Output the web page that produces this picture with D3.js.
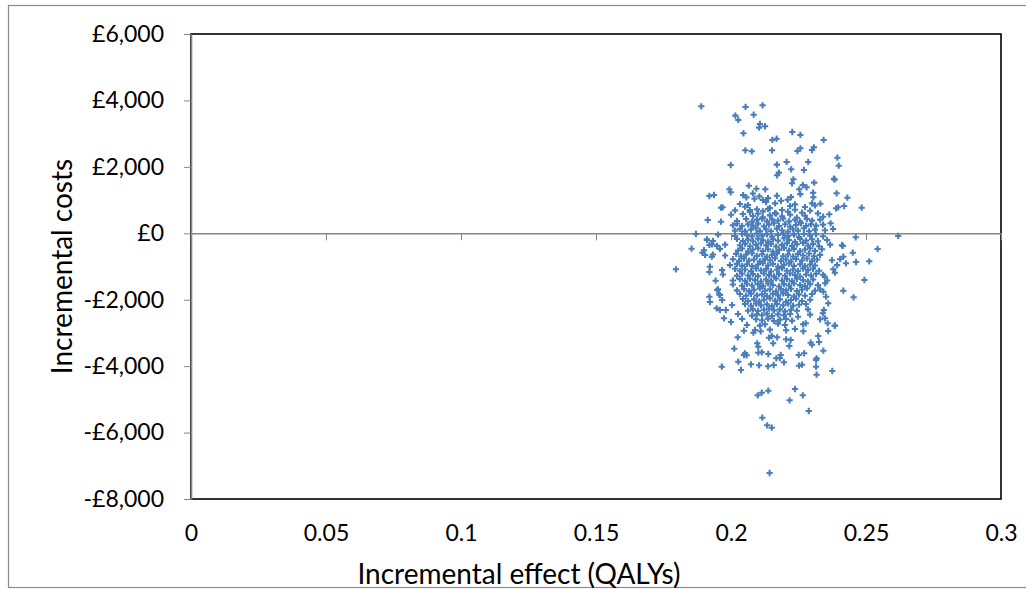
<!DOCTYPE html>
<html>
<head>
<meta charset="utf-8">
<script src="https://cdn.jsdelivr.net/npm/d3@7"></script>
<style>
  body { margin: 0; background: #fff; }
  svg { display: block; }
  .vis-plane text { font-family: Lato, "Open Sans", sans-serif; fill: #000; }
</style>
</head>
<body>
<div id="chart"></div>
<script>
// Incremental effect (QALYs), incremental cost (£) pairs
const upperTail = [
  [0.1890, 3824], [0.2054, 3803], [0.2117, 3854], [0.2016, 3541], [0.2027, 3412],
  [0.2084, 3571], [0.2107, 3291], [0.2126, 3222], [0.2104, 3180], [0.2046, 3011],
  [0.2227, 3050], [0.2257, 2960], [0.2343, 2810], [0.2153, 2810], [0.2169, 2848],
  [0.2053, 2499], [0.2077, 2469], [0.2152, 2499], [0.2246, 2478], [0.2257, 2559],
  [0.2300, 2508], [0.2307, 2589], [0.1999, 2056], [0.2170, 2066], [0.2206, 2147],
  [0.2286, 2147], [0.2394, 2276], [0.2399, 2035], [0.2223, 1927], [0.2270, 1906],
  [0.2177, 1825], [0.2171, 1746], [0.2381, 1644], [0.2384, 1614], [0.2231, 1626],
  [0.2226, 1506], [0.2308, 1524], [0.2066, 1433], [0.2094, 1343], [0.2127, 1325],
  [0.1994, 1325], [0.1999, 1235], [0.1920, 1123], [0.1937, 1153], [0.2253, 1325],
  [0.2266, 1454], [0.2280, 1385], [0.2304, 1222], [0.2305, 1084], [0.2391, 1204],
  [0.2431, 1072], [0.2484, 771], [0.2419, 822], [0.2389, 753], [0.2397, 783],
  [0.1963, 771], [0.1969, 783], [0.1914, 400], [0.1963, 349], [0.2369, 301],
  [0.2364, 572], [0.2331, 891],
];

const sidePoints = [
  [0.1870, -20], [0.2462, -120], [0.2619, -81], [0.1796, -1084], [0.1854, -464],
  [0.1894, -584], [0.1904, -653], [0.1911, -181], [0.1920, -352], [0.1929, -705],
  [0.1922, -1006], [0.1920, -1165], [0.1943, -1427], [0.1920, -1909], [0.1922, -2069],
  [0.1949, -1707], [0.1956, -1837], [0.1947, -2258], [0.1959, -2309], [0.1974, -2559],
  [0.2000, -2671], [0.2454, -1927], [0.2416, -1728], [0.2494, -1406], [0.2512, -843],
  [0.2463, -864], [0.2451, -584], [0.2414, -382], [0.2416, -705], [0.2426, -903],
  [0.2543, -473], [0.2379, -1084], [0.2385, -1186], [0.2347, -1307], [0.2349, -1506],
  [0.2342, -1758], [0.2352, -1909], [0.2360, -2108], [0.2344, -2309], [0.2340, -2409],
  [0.2277, -2710], [0.2248, -2511],
];

const core = [
  [0.2045, 1150], [0.2057, 1080], [0.2081, 1200], [0.2087, 1040], [0.2105, 1110], [0.2118, 1000],
  [0.2137, 1060], [0.2170, 1130], [0.2210, 1010], [0.2257, 1180], [0.2222, 1090],
  [0.2033, 880], [0.2052, 800], [0.2063, 850], [0.2070, 700], [0.2144, 760], [0.2163, 900],
  [0.2219, 820], [0.2237, 870], [0.2274, 790], [0.2300, 900], [0.2311, 840], [0.2185, 980], [0.2130, 940],
  [0.2015, 690], [0.2070, 640], [0.2096, 720], [0.2118, 660], [0.2137, 730], [0.2163, 610],
  [0.2189, 700], [0.2211, 650], [0.2237, 710], [0.2263, 620], [0.2293, 680], [0.2322, 600],
  [0.2000, 560], [0.2044, 580], [0.2081, 520], [0.2100, 590], [0.2118, 480], [0.2144, 540],
  [0.2167, 590], [0.2189, 510], [0.2219, 560], [0.2244, 470], [0.2274, 530], [0.2341, 500],
  [0.2022, 370], [0.2056, 430], [0.2078, 350], [0.2096, 410], [0.2115, 440], [0.2133, 360],
  [0.2152, 420], [0.2174, 380], [0.2193, 440], [0.2215, 360], [0.2237, 410], [0.2256, 350], [0.2281, 430],
  [0.2300, 380], [0.2330, 410],
  [0.2007, 240], [0.2022, 290], [0.2041, 220], [0.2063, 270], [0.2081, 230], [0.2100, 290], [0.2122, 210],
  [0.2141, 260], [0.2159, 300], [0.2178, 220], [0.2200, 270], [0.2219, 200], [0.2241, 250], [0.2259, 300],
  [0.2278, 220], [0.2296, 270], [0.2315, 230], [0.2341, 260],
  [0.2015, 80], [0.2033, 130], [0.2052, 60], [0.2074, 110], [0.2093, 150], [0.2107, 70], [0.2130, 120],
  [0.2148, 60], [0.2170, 140], [0.2189, 90], [0.2211, 50], [0.2230, 120], [0.2248, 80], [0.2270, 150],
  [0.2289, 60], [0.2311, 110], [0.2348, 90], [0.2378, 130],
  [0.1952, -40], [0.2015, -80], [0.2041, -20], [0.2059, -60], [0.2078, -90], [0.2096, -10], [0.2115, -70],
  [0.2133, -30], [0.2152, -100], [0.2174, -50], [0.2193, -10], [0.2211, -80], [0.2233, -40], [0.2252, -110],
  [0.2270, -20], [0.2293, -70], [0.2315, -30], [0.2341, -90],
  [0.1911, -200], [0.1933, -230], [0.2022, -170], [0.2044, -230], [0.2063, -190], [0.2081, -240],
  [0.2100, -160], [0.2118, -210], [0.2137, -250], [0.2155, -180], [0.2174, -220], [0.2196, -150],
  [0.2215, -200], [0.2237, -260], [0.2256, -170], [0.2278, -220], [0.2300, -180], [0.2322, -240], [0.2356, -200],
  [0.1930, -330], [0.1948, -380], [0.1978, -340], [0.2033, -360], [0.2052, -310], [0.2070, -390],
  [0.2093, -340], [0.2111, -300], [0.2130, -370], [0.2148, -320], [0.2167, -400], [0.2189, -350],
  [0.2207, -300], [0.2226, -380], [0.2244, -330], [0.2267, -290], [0.2285, -370], [0.2304, -320],
  [0.2326, -390], [0.2367, -340], [0.2411, -360],
  [0.1900, -510], [0.1959, -470], [0.2026, -520], [0.2041, -460], [0.2063, -540], [0.2081, -490],
  [0.2100, -450], [0.2118, -530], [0.2137, -480], [0.2155, -550], [0.2178, -500], [0.2196, -440],
  [0.2215, -520], [0.2233, -470], [0.2256, -540], [0.2274, -490], [0.2293, -450], [0.2311, -530], [0.2337, -480],
  [0.1933, -640], [0.1978, -670], [0.2019, -620], [0.2037, -690], [0.2056, -640], [0.2078, -600],
  [0.2096, -680], [0.2115, -630], [0.2133, -700], [0.2152, -650], [0.2170, -610], [0.2193, -690],
  [0.2211, -640], [0.2230, -700], [0.2248, -620], [0.2267, -670], [0.2289, -610], [0.2307, -690], [0.2330, -650],
  [0.2007, -780], [0.2030, -830], [0.2048, -760], [0.2067, -820], [0.2085, -790], [0.2107, -840],
  [0.2126, -770], [0.2144, -810], [0.2163, -750], [0.2185, -830], [0.2204, -790], [0.2222, -850],
  [0.2241, -770], [0.2263, -820], [0.2281, -760], [0.2300, -830], [0.2319, -790], [0.2374, -810], [0.2404, -780],
  [0.1996, -960], [0.2022, -920], [0.2041, -980], [0.2059, -930], [0.2078, -990], [0.2100, -940],
  [0.2118, -900], [0.2137, -970], [0.2155, -920], [0.2174, -1000], [0.2196, -950], [0.2215, -910],
  [0.2233, -980], [0.2256, -930], [0.2274, -990], [0.2293, -940], [0.2311, -970], [0.2393, -960],
  [0.1967, -1110], [0.2015, -1070], [0.2033, -1130], [0.2052, -1090], [0.2074, -1140], [0.2093, -1060],
  [0.2111, -1120], [0.2130, -1080], [0.2148, -1150], [0.2170, -1100], [0.2189, -1050], [0.2207, -1130],
  [0.2230, -1090], [0.2248, -1140], [0.2267, -1060], [0.2285, -1110], [0.2304, -1070], [0.2326, -1130],
  [0.1970, -1240], [0.2022, -1280], [0.2041, -1220], [0.2063, -1270], [0.2081, -1230], [0.2100, -1290],
  [0.2122, -1210], [0.2141, -1260], [0.2159, -1300], [0.2178, -1230], [0.2200, -1280], [0.2219, -1210],
  [0.2237, -1260], [0.2256, -1300], [0.2278, -1240], [0.2296, -1270], [0.2315, -1220], [0.2341, -1250],
  [0.2007, -1420], [0.2033, -1380], [0.2052, -1430], [0.2070, -1370], [0.2089, -1410], [0.2111, -1450],
  [0.2130, -1390], [0.2148, -1430], [0.2167, -1360], [0.2189, -1420], [0.2207, -1380], [0.2226, -1440],
  [0.2244, -1370], [0.2267, -1410], [0.2285, -1450], [0.2304, -1390], [0.2356, -1420],
  [0.2007, -1540], [0.2041, -1580], [0.2059, -1520], [0.2078, -1570], [0.2100, -1530], [0.2118, -1590],
  [0.2137, -1510], [0.2155, -1560], [0.2178, -1600], [0.2196, -1530], [0.2215, -1570], [0.2233, -1510],
  [0.2256, -1560], [0.2274, -1590], [0.2293, -1530], [0.2322, -1560],
  [0.1952, -1690], [0.2022, -1720], [0.2048, -1680], [0.2067, -1740], [0.2085, -1700], [0.2107, -1660],
  [0.2126, -1730], [0.2144, -1690], [0.2167, -1750], [0.2185, -1680], [0.2204, -1720], [0.2222, -1670],
  [0.2244, -1740], [0.2263, -1700], [0.2281, -1660], [0.2311, -1730], [0.2330, -1690],
  [0.1959, -1860], [0.2033, -1830], [0.2056, -1880], [0.2074, -1820], [0.2096, -1870], [0.2115, -1840],
  [0.2133, -1890], [0.2155, -1830], [0.2174, -1870], [0.2193, -1810], [0.2211, -1860], [0.2233, -1900],
  [0.2252, -1840], [0.2274, -1880], [0.2300, -1830],
  [0.1967, -2010], [0.2044, -1980], [0.2063, -2040], [0.2085, -1990], [0.2104, -2050], [0.2122, -2000],
  [0.2144, -1960], [0.2163, -2030], [0.2181, -1990], [0.2204, -2060], [0.2222, -2010], [0.2241, -1970],
  [0.2263, -2040], [0.2293, -2000],
  [0.2004, -2160], [0.2052, -2130], [0.2074, -2180], [0.2093, -2120], [0.2111, -2170], [0.2133, -2140],
  [0.2152, -2190], [0.2170, -2130], [0.2193, -2170], [0.2211, -2120], [0.2230, -2180], [0.2252, -2150],
  [0.2278, -2130],
  [0.1981, -2310], [0.2063, -2330], [0.2081, -2290], [0.2100, -2340], [0.2122, -2300],
  [0.2141, -2270], [0.2159, -2320], [0.2181, -2290], [0.2200, -2350], [0.2222, -2300], [0.2244, -2330],
  [0.2285, -2290],
  [0.2026, -2430], [0.2078, -2480], [0.2096, -2440], [0.2115, -2470], [0.2133, -2420],
  [0.2152, -2490], [0.2174, -2440], [0.2196, -2470], [0.2219, -2430], [0.2293, -2450],
  [0.2041, -2580], [0.2093, -2590], [0.2115, -2620], [0.2137, -2570],
  [0.2159, -2640], [0.2181, -2600], [0.2204, -2580], [0.2226, -2630], [0.2330, -2590],
  [0.2059, -2760], [0.2107, -2780], [0.2126, -2740], [0.2174, -2720],
  [0.2200, -2760], [0.2267, -2740], [0.2385, -2780],
  [0.2089, -2910], [0.2144, -2900], [0.2204, -2920], [0.2237, -2880],
];

const lowerTail = [
  [0.2025, -3131], [0.2012, -3475], [0.2052, -3613], [0.2048, -2933], [0.2083, -2993],
  [0.2110, -2951], [0.2097, -3312], [0.2101, -3414], [0.2141, -3143], [0.2151, -3092],
  [0.2171, -3131], [0.2156, -3312], [0.2204, -3192], [0.2221, -3213], [0.2216, -3393],
  [0.2268, -2951], [0.2295, -3294], [0.2300, -3354], [0.2323, -3092], [0.2326, -3273],
  [0.2342, -3535], [0.2360, -2942], [0.2384, -2782], [0.2358, -2710], [0.2348, -2559],
  [0.2181, -3755], [0.2251, -3664], [0.2271, -3613], [0.2317, -3764], [0.2101, -3595],
  [0.2138, -3634], [0.2058, -3673], [0.2048, -3664], [0.2114, -3583], [0.2168, -3764],
  [0.2184, -3664], [0.1966, -4017], [0.2027, -3866], [0.2037, -4116], [0.2074, -3944],
  [0.2104, -3975], [0.2137, -4005], [0.2158, -3966], [0.2196, -3884], [0.2252, -3987],
  [0.2263, -3956], [0.2315, -3815], [0.2315, -4017], [0.2317, -4258], [0.2375, -4146],
  [0.2099, -4878], [0.2114, -4800], [0.2138, -4739], [0.2237, -4688], [0.2266, -4878],
  [0.2217, -5028], [0.2288, -5351], [0.2116, -5552], [0.2134, -5781], [0.2151, -5853],
  [0.2143, -7217],
];

const effectTicks = [0, 0.05, 0.1, 0.15, 0.2, 0.25, 0.3];
const costTicks = [-8000, -6000, -4000, -2000, 0, 2000, 4000, 6000];

class VisCostEffectPlane {
  constructor({ el, data }) {
    this.el = el;
    this.data = data;
    this.initVis();
  }

  initVis() {
    this.width = 1026;
    this.height = 589;
    this.plot = { left: 191, top: 34, right: 1001, bottom: 499 };
    this.axisColor = "#868686";
    this.markColor = "#4a7ebb";

    this.x = d3
      .scaleLinear()
      .domain(d3.extent(effectTicks))
      .range([this.plot.left, this.plot.right]);
    this.y = d3
      .scaleLinear()
      .domain(d3.extent(costTicks))
      .range([this.plot.bottom, this.plot.top]);

    this.formatCost = (d) =>
      (d < 0 ? "-" : "") + "£" + d3.format(",")(Math.abs(d));

    this.svg = d3
      .select(this.el)
      .append("svg")
      .attr("class", "vis-plane")
      .attr("width", this.width)
      .attr("height", this.height);

    // chart frame
    this.svg
      .append("rect")
      .attr("x", 8.5)
      .attr("y", 5.5)
      .attr("width", 1040)
      .attr("height", 582)
      .attr("fill", "#fff")
      .attr("stroke", "#8c8c8c")
      .attr("stroke-width", 1.2);

    this.renderAxes();
    this.renderPoints();
    this.renderTitles();
  }

  renderAxes() {
    const { left, top, right, bottom } = this.plot;

    this.svg
      .append("rect")
      .attr("x", left)
      .attr("y", top)
      .attr("width", right - left)
      .attr("height", bottom - top)
      .attr("fill", "none")
      .attr("stroke", "#000")
      .attr("stroke-width", 1.6);

    this.svg
      .append("g")
      .attr("transform", `translate(${left},0)`)
      .call(
        d3
          .axisLeft(this.y)
          .tickValues(costTicks)
          .tickFormat(this.formatCost)
          .tickSizeInner(7)
          .tickSizeOuter(0)
          .tickPadding(20)
      )
      .call((g) =>
        g.select(".domain").attr("stroke", this.axisColor).attr("stroke-width", 1.6)
      )
      .call((g) => g.selectAll(".tick line").attr("stroke", this.axisColor))
      .call((g) =>
        g.selectAll(".tick text").attr("font-size", 23).attr("fill", "#000")
      );

    // horizontal axis sits on the £0 line, with its labels under the plot
    this.svg
      .append("g")
      .attr("transform", `translate(0,${this.y(0)})`)
      .call(
        d3
          .axisBottom(this.x)
          .tickValues(effectTicks)
          .tickSizeInner(7)
          .tickSizeOuter(0)
          .tickFormat("")
      )
      .call((g) =>
        g.select(".domain").attr("stroke", this.axisColor).attr("stroke-width", 1.6)
      )
      .call((g) => g.selectAll(".tick line").attr("stroke", this.axisColor));

    this.svg
      .append("g")
      .attr("transform", `translate(0,${bottom})`)
      .call(
        d3
          .axisBottom(this.x)
          .tickValues(effectTicks)
          .tickSize(0)
          .tickPadding(26)
          .tickFormat((d) => String(d))
      )
      .call((g) => g.select(".domain").remove())
      .call((g) =>
        g.selectAll(".tick text").attr("font-size", 23).attr("fill", "#000")
      );
  }

  renderPoints() {
    const cross = d3.symbol(d3.symbolCross, 22);
    this.svg
      .append("g")
      .attr("class", "vis-plane-points")
      .selectAll("path")
      .data(this.data)
      .join("path")
      .attr("d", cross)
      .attr("fill", this.markColor)
      .attr("transform", (d) => `translate(${this.x(d[0])},${this.y(d[1])})`);
  }

  renderTitles() {
    this.svg
      .append("text")
      .attr("transform", `translate(62,${(this.plot.top + this.plot.bottom) / 2}) rotate(-90)`)
      .attr("text-anchor", "middle")
      .attr("dy", "0.35em")
      .attr("font-size", 28)
      .text("Incremental costs");

    this.svg
      .append("text")
      .attr("x", 519)
      .attr("y", 574)
      .attr("text-anchor", "middle")
      .attr("dy", "0.35em")
      .attr("font-size", 28)
      .text("Incremental effect (QALYs)");
  }
}

new VisCostEffectPlane({
  el: "#chart",
  data: [...upperTail, ...sidePoints, ...core, ...lowerTail],
});
</script>
</body>
</html>
